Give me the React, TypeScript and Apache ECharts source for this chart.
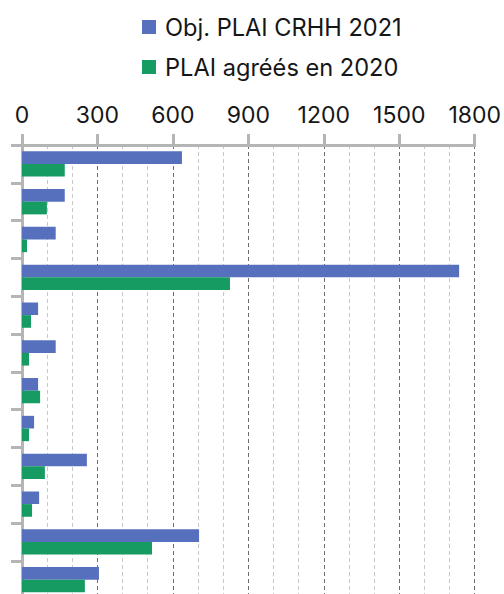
import React, { useEffect, useRef } from "react";
import * as echarts from "echarts";

const categories = ["1", "2", "3", "4", "5", "6", "7", "8", "9", "10", "11", "12"];
const objPlai2021 = [636, 170, 134, 1738, 64, 134, 64, 48, 258, 68, 704, 306];
const plaiAgrees2020 = [170, 99, 20, 827, 36, 28, 72, 28, 91, 40, 517, 250];
const seriesNames = ["Obj. PLAI CRHH 2021", "PLAI agréés en 2020"];
const xTicks = { min: 0, max: 1800, interval: 300 };

const FONT = "Inter";

export default function App() {
  const ref = useRef<HTMLDivElement>(null);
  useEffect(() => {
    if (!ref.current) return;
    const chart = echarts.init(ref.current, null, { renderer: "svg" });
    chart.setOption({
      animation: false,
      textStyle: { fontFamily: FONT },
      legend: {
        orient: "vertical",
        left: 137,
        top: 8,
        itemWidth: 14,
        itemHeight: 14,
        itemGap: 12,
        icon: "rect",
        textStyle: { fontFamily: FONT, fontSize: 23.6, color: "#161616", lineHeight: 28, padding: [0, 0, 0, 4] },
        data: seriesNames,
      },
      grid: { left: 22, right: 28.3, top: 145, height: 453.6 },
      xAxis: {
        type: "value",
        position: "top",
        min: xTicks.min,
        max: xTicks.max,
        interval: xTicks.interval,
        axisLine: { show: true, lineStyle: { color: "#b5b5b5", width: 3 } },
        axisTick: { show: true, length: 11, lineStyle: { color: "#b5b5b5", width: 3 } },
        axisLabel: { fontFamily: FONT, fontSize: 23, color: "#161616", margin: 19, formatter: (v: number) => String(v) },
        splitLine: { show: true, lineStyle: { color: "#6e6e6e", type: [4, 3], width: 1 } },
        minorTick: { show: false, splitNumber: 3 },
        minorSplitLine: { show: true, lineStyle: { color: "#c8c8c8", type: [4, 3], width: 1 } },
      },
      yAxis: {
        type: "category",
        data: categories,
        inverse: true,
        axisLine: { show: true, lineStyle: { color: "#b5b5b5", width: 3 } },
        axisTick: { show: true, length: 11, lineStyle: { color: "#b5b5b5", width: 3 } },
        axisLabel: { show: false },
        splitLine: { show: false },
      },
      series: [
        {
          name: seriesNames[0],
          type: "bar",
          data: objPlai2021,
          itemStyle: { color: "#5770be" },
          barGap: "0%",
          barCategoryGap: "33%",
        },
        {
          name: seriesNames[1],
          type: "bar",
          data: plaiAgrees2020,
          itemStyle: { color: "#169b62" },
          barGap: "0%",
          barCategoryGap: "33%",
        },
      ],
    });
    return () => chart.dispose();
  }, []);
  return (
    <div
      ref={ref}
      style={{ position: "fixed", left: 0, top: 0, width: 504, height: 620, background: "#fff" }}
    />
  );
}
